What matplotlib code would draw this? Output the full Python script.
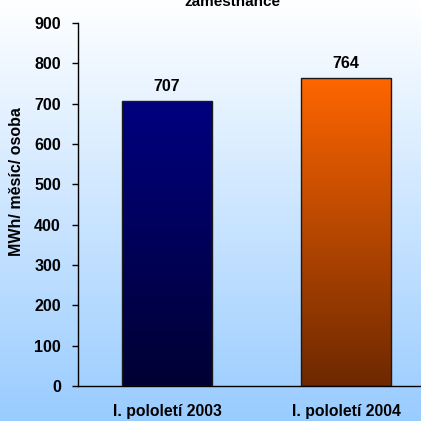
import numpy as np
import matplotlib
matplotlib.use("Agg")
import matplotlib.pyplot as plt
from matplotlib.colors import LinearSegmentedColormap

plt.rcParams['font.family'] = ['Liberation Sans', 'DejaVu Sans']
plt.rcParams['font.weight'] = 'bold'

# data
categories = ["I. pololetí 2003", "I. pololetí 2004"]
values = [707, 764]
y_ticks = [0, 100, 200, 300, 400, 500, 600, 700, 800, 900]
title_text = "zaměstnance"
y_label = "MWh/ měsíc/ osoba"

# gradient colours (top -> bottom) per bar
bar_grads = [("#000080", "#000033"), ("#FF6600", "#6E2800")]

fig = plt.figure(figsize=(4.21, 4.21), dpi=100)

# background gradient over whole figure
bg = fig.add_axes([0, 0, 1, 1], zorder=-10)
bg_cmap = LinearSegmentedColormap.from_list("bg", ["#FFFFFF", "#99CCFF"])
bg.imshow(np.linspace(0, 1, 256).reshape(-1, 1), aspect='auto', cmap=bg_cmap,
          extent=[0, 1, 0, 1], origin='upper')
bg.axis('off')

ax = fig.add_axes([77.5/421, 35/421, 358/421, 363/421])
ax.patch.set_alpha(0)

x = np.arange(len(categories))
bars = ax.bar(x, values, width=0.5, facecolor='none', edgecolor='#1a1a1a',
              linewidth=1.0, zorder=3)

grad = np.linspace(0, 1, 256).reshape(-1, 1)
for b, (c_top, c_bot) in zip(bars, bar_grads):
    cmap = LinearSegmentedColormap.from_list("g", [c_top, c_bot])
    x0, y0 = b.get_x(), b.get_y()
    im = ax.imshow(grad, aspect='auto', cmap=cmap, origin='upper',
                   extent=[x0, x0 + b.get_width(), y0, y0 + b.get_height()],
                   zorder=2)
    im.set_clip_path(b)

for xi, v in zip(x, values):
    ax.annotate(str(v), (xi, v), xytext=(0, 5), textcoords='offset points',
                ha='center', va='bottom', fontsize=11.5, fontweight='bold')

ax.set_xlim(-0.5, 1.5)
ax.set_ylim(0, 900)
ax.set_yticks(y_ticks)
ax.set_yticklabels([str(t) for t in y_ticks], fontsize=11.5, fontweight='bold')
ax.set_xticks(x)
ax.set_xticklabels(categories, fontsize=11.3, fontweight='bold')
ax.tick_params(axis='x', length=0, pad=13)
ax.tick_params(axis='y', length=4, width=1, pad=8, direction='out')
ax.spines['top'].set_visible(False)
ax.spines['right'].set_visible(False)
ax.spines['left'].set_linewidth(1)
ax.spines['bottom'].set_linewidth(1)
ax.set_ylabel(y_label, fontsize=11.5, fontweight='bold')
ax.yaxis.set_label_coords(-0.149, 0.562)

fig.text(232/421, 1 - 6/421, title_text, ha='center', va='baseline',
         fontsize=11, fontweight='bold')

fig.savefig("out.png", dpi=100)
